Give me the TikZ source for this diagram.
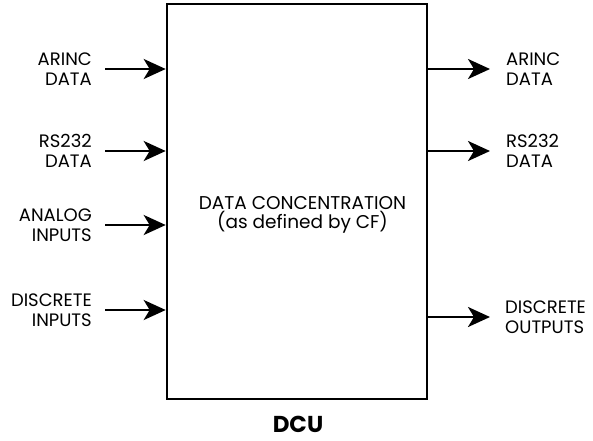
\documentclass[tikz,border=0pt]{standalone}
\usepackage{fontspec}
\setmainfont{Poppins}
\usetikzlibrary{arrows.meta}
\begin{document}
\begin{tikzpicture}[x=1pt,y=-1pt,
  lbl/.style={font=\fontsize{18}{20}\selectfont, align=right, anchor=east, inner sep=0pt},
  rlbl/.style={font=\fontsize{18}{20}\selectfont, align=left, anchor=west, inner sep=0pt},
  conn/.style={line width=2.6pt, -{Stealth[length=22pt,width=20pt,inset=6pt]}}]
\useasboundingbox (0,0) rectangle (593,440);
\node[draw, line width=2.6pt, minimum width=260pt, minimum height=395pt, inner sep=0pt] (dcu) at (297,201.5) {};
\node[font=\fontsize{18.5}{19}\selectfont, align=center] (main) at (302.5,215) {DATA CONCENTRATION\\(as defined by CF)};
\node[font=\fontsize{23}{24}\selectfont\bfseries, inner sep=0pt, anchor=base] (name) at (298,432) {DCU};
% left inputs
\coordinate (i1) at (105,69);
\coordinate (i2) at (105,151);
\coordinate (i3) at (105,225);
\coordinate (i4) at (105,310);
\node[lbl] (l1) at (92,69) {ARINC\\DATA};
\node[lbl] (l2) at (92,151) {RS232\\DATA};
\node[lbl] (l3) at (92,225) {ANALOG\\INPUTS};
\node[lbl] (l4) at (92,310) {DISCRETE\\INPUTS};
\draw[conn] (i1) -- (i1 -| dcu.west);
\draw[conn] (i2) -- (i2 -| dcu.west);
\draw[conn] (i3) -- (i3 -| dcu.west);
\draw[conn] (i4) -- (i4 -| dcu.west);
% right outputs
\coordinate (o1) at (490,69);
\coordinate (o2) at (490,151);
\coordinate (o3) at (490,317);
\draw[conn] (o1 -| dcu.east) -- (o1);
\draw[conn] (o2 -| dcu.east) -- (o2);
\draw[conn] (o3 -| dcu.east) -- (o3);
\node[rlbl] (r1) at (506,69) {ARINC\\DATA};
\node[rlbl] (r2) at (506,151) {RS232\\DATA};
\node[rlbl] (r3) at (505,317) {DISCRETE\\OUTPUTS};
\end{tikzpicture}
\end{document}
